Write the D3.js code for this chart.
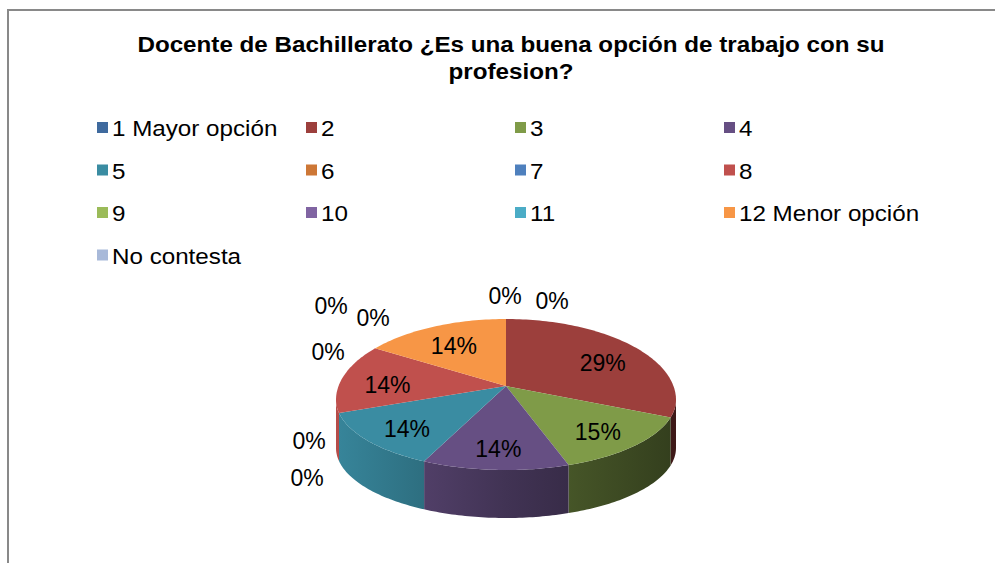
<!DOCTYPE html>
<html>
<head>
<meta charset="utf-8">
<script src="https://cdn.jsdelivr.net/npm/d3@7"></script>
<style type="text/css">
body { margin: 0; background: #fff; }
text { font-family: "Liberation Sans", Arial, sans-serif; fill: #000; }
.title { font-weight: bold; font-size: 22px; }
.legend text { font-size: 22px; }
.lbl { font-size: 23px; }
</style>
</head>
<body>
<script>
// data
var categories = ["1 Mayor opción", "2", "3", "4", "5", "6", "7", "8", "9", "10", "11", "12 Menor opción", "No contesta"];
var values = [0, 29, 15, 14, 14, 0, 0, 14, 0, 0, 0, 14, 0];
var colors = ["#3f6a9e", "#9c3f3c", "#7f9b48", "#664f83", "#3a8ca2", "#cd7736", "#4e80bd",
              "#c0504d", "#9bbb59", "#8064a2", "#4bacc6", "#f79646", "#a8b9d9"];
var titleLines = ["Docente de Bachillerato ¿Es una buena opción de trabajo con su", "profesion?"];

// layout
var W = 995, H = 563;
// perspective: back half of the ellipse is taller than the front half
var cx = 506, cy = 400, rx = 170, ryBack = 81, ryFront = 70, depth = 48, apexDy = -14;
var stretch = 1.1; // the original text is a little wider than plain Arial
// nudges for the 0% labels, relative to the rim point of their slice
var zeroNudge = { 0: [46, -18], 5: [-32, 65], 6: [-30, 28], 8: [-47, 4], 9: [-44, -42], 10: [-2, -30], 12: [-1, -23] };

var svg = d3.select("body").append("svg")
    .attr("width", W)
    .attr("height", H);

// chart area frame (runs off the right / bottom of the picture)
svg.append("rect")
    .attr("x", 8).attr("y", 10)
    .attr("width", W + 20).attr("height", H + 20)
    .style("fill", "none")
    .style("stroke", "#898989")
    .style("stroke-width", 2);

// title
svg.selectAll(".title")
    .data(titleLines)
  .enter().append("text")
    .attr("class", "title")
    .attr("transform", function(d, i) { return "translate(511," + (52 + i * 27) + ") scale(" + stretch + ",1)"; })
    .attr("text-anchor", "middle")
    .text(function(d) { return d; });

// legend, 4 columns
var colX = d3.scaleLinear().domain([0, 1]).range([97, 306]);
var rowY = d3.scaleLinear().domain([0, 1]).range([128, 170.5]);

var leg = svg.append("g").attr("class", "legend")
    .selectAll("g")
    .data(categories)
  .enter().append("g")
    .attr("transform", function(d, i) { return "translate(" + colX(i % 4) + "," + rowY(Math.floor(i / 4)) + ")"; });

leg.append("rect")
    .attr("x", 0).attr("y", -6)
    .attr("width", 11).attr("height", 11)
    .style("fill", function(d, i) { return colors[i]; });

leg.append("text")
    .attr("transform", "translate(15,8) scale(" + stretch + ",1)")
    .text(function(d) { return d; });

// pie
var pie = d3.pie().sort(null).value(function(d) { return d; });
var arcs = pie(values);
var apex = [cx, cy + apexDy];

function rim(a, dy) {
    var c = Math.cos(a);
    return [cx + rx * Math.sin(a), cy - (c > 0 ? ryBack : ryFront) * c + (dy || 0)];
}
function arcPts(a0, a1, dy) {
    var n = Math.max(2, Math.ceil((a1 - a0) / 0.02));
    return d3.range(n + 1).map(function(j) { return rim(a0 + (a1 - a0) * j / n, dy); });
}
var line = d3.line();

// side shading: lighter on the left, darker on the right
var defs = svg.append("defs");
arcs.forEach(function(d, i) {
    var c = d3.rgb(colors[i]);
    var g = defs.append("linearGradient")
        .attr("id", "side" + i)
        .attr("gradientUnits", "userSpaceOnUse")
        .attr("x1", cx - rx).attr("x2", cx + rx)
        .attr("y1", 0).attr("y2", 0);
    [[0, 0.95], [0.5, 0.64], [1, 0.40]].forEach(function(s) {
        g.append("stop")
            .attr("offset", s[0])
            .attr("stop-color", d3.rgb(c.r * s[1], c.g * s[1], c.b * s[1]));
    });
});

// front walls
arcs.forEach(function(d, i) {
    var a0 = Math.max(d.startAngle, Math.PI / 2), a1 = Math.min(d.endAngle, 3 * Math.PI / 2);
    if (a1 <= a0) return;
    var pts = arcPts(a0, a1, 0).concat(arcPts(a0, a1, depth).reverse());
    svg.append("path")
        .attr("d", line(pts) + "Z")
        .style("fill", "url(#side" + i + ")");
});

// top faces
arcs.forEach(function(d, i) {
    if (d.endAngle - d.startAngle <= 0) return;
    var pts = [apex].concat(arcPts(d.startAngle, d.endAngle, 0));
    svg.append("path")
        .attr("d", line(pts) + "Z")
        .style("fill", colors[i]);
});

// data labels
var pct = d3.format(".0%");
var total = d3.sum(values);
svg.selectAll(".lbl")
    .data(arcs)
  .enter().append("text")
    .attr("class", "lbl")
    .attr("text-anchor", "middle")
    .attr("dominant-baseline", "central")
    .attr("transform", function(d, i) {
        var mid = (d.startAngle + d.endAngle) / 2, r = rim(mid, 0), p;
        if (d.value > 0) {
            p = [apex[0] + 0.72 * (r[0] - apex[0]), apex[1] + 0.72 * (r[1] - apex[1]) + 3];
        } else {
            p = [r[0] + zeroNudge[i][0], r[1] + zeroNudge[i][1]];
        }
        return "translate(" + p[0] + "," + p[1] + ")";
    })
    .text(function(d) { return pct(d.value / total); });
</script>
</body>
</html>
